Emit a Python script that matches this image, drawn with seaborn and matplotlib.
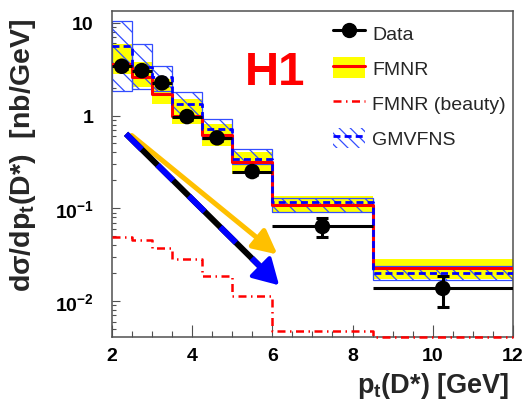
import numpy as np
import pandas as pd
import matplotlib
matplotlib.use("Agg")
import matplotlib.pyplot as plt
import seaborn as sns
from matplotlib.patches import Patch
from matplotlib.lines import Line2D
from matplotlib.ticker import FixedLocator, FixedFormatter, LogLocator, MultipleLocator, NullFormatter

# ---- measured D* cross section, pt bins ----
bin_edges = [2.0, 2.5, 3.0, 3.5, 4.25, 5.0, 6.0, 8.5, 12.0]
data_xsec = [3.4, 3.05, 2.25, 0.975, 0.575, 0.249, 0.0637, 0.0137]
data_err = [0.25, 0.22, 0.16, 0.07, 0.04, 0.018, 0.0147, 0.0051]

# ---- NLO predictions ----
fmnr_central = [3.6, 2.6, 1.71, 1.0, 0.62, 0.317, 0.109, 0.0227]
fmnr_low = [2.8, 2.04, 1.34, 0.81, 0.475, 0.235, 0.0887, 0.0171]
fmnr_high = [5.9, 3.8, 2.5, 1.51, 0.814, 0.406, 0.137, 0.0286]
fmnr_beauty = [0.049, 0.046, 0.0375, 0.0286, 0.0187, 0.0114, 0.0047, 0.0041]
gmvfns_central = [5.6, 3.35, 2.6, 1.34, 0.72, 0.34, 0.1166, 0.020]
gmvfns_low = [1.86, 1.94, 1.86, 0.97, 0.561, 0.30, 0.091, 0.017]
gmvfns_high = [10.5, 5.9, 3.45, 1.81, 0.92, 0.437, 0.13, 0.0238]

# ---- axis ticks ----
xtick_values = [2, 4, 6, 8, 10, 12]
xtick_labels = ["2", "4", "6", "8", "10", "12"]
ytick_values = [0.01, 0.1, 1, 10]
ytick_labels = ["10$^{-2}$", "10$^{-1}$", "1", "10"]

# ---- illustrative trend arrows (start, tip) in data coordinates ----
arrow_dark = ((2.357, 0.635), (6.17, 0.0148))
arrow_gold = ((2.499, 0.609), (6.13, 0.0318))

sns.set_theme(style="ticks")
plt.rcParams.update({
    "font.family": ["Liberation Sans", "DejaVu Sans"],
    "font.weight": "bold",
    "axes.labelweight": "bold",
    "mathtext.fontset": "custom",
    "mathtext.rm": "Liberation Sans:bold",
    "mathtext.bf": "Liberation Sans:bold",
    "mathtext.it": "Liberation Sans:bold",
    "mathtext.default": "bf",
    "hatch.linewidth": 0.9,
})

edges = np.array(bin_edges)
lefts = edges[:-1]
widths = np.diff(edges)
centers = lefts + widths / 2


def stepped(vals):
    v = list(vals)
    return v + [v[-1]]


fig = plt.figure(figsize=(5.25, 4.06), dpi=100)
ax = fig.add_axes([0.2128, 0.1675, 0.7644, 0.8037])
ax.set_yscale("log")
ax.set_xlim(2, 12)
ax.set_ylim(0.0041, 13.5)

hatch_blue = (0.2, 0.3, 1.0)

# FMNR uncertainty band
ax.fill_between(edges, stepped(fmnr_low), stepped(fmnr_high), step="post",
                color="#FFFF00", lw=0, zorder=1)

# GMVFNS uncertainty boxes
ax.bar(lefts, np.array(gmvfns_high) - np.array(gmvfns_low), bottom=gmvfns_low,
       width=widths, align="edge", facecolor="none", edgecolor=hatch_blue,
       hatch="\\\\", lw=0.9, zorder=2)

# central predictions
sdf = pd.DataFrame({
    "pt": edges,
    "fmnr": stepped(fmnr_central),
    "gmvfns": stepped(gmvfns_central),
    "beauty": stepped(fmnr_beauty),
})
sns.lineplot(data=sdf, x="pt", y="fmnr", drawstyle="steps-post", estimator=None,
             sort=False, color="red", lw=2.2, ax=ax, zorder=3)
sns.lineplot(data=sdf, x="pt", y="gmvfns", drawstyle="steps-post", estimator=None,
             sort=False, color="blue", lw=2.0, linestyle=(0, (2.5, 1.5)), ax=ax, zorder=4)
sns.lineplot(data=sdf, x="pt", y="beauty", drawstyle="steps-post", estimator=None,
             sort=False, color="red", lw=1.8, linestyle=(0, (3.2, 1.8, 0.6, 1.8)),
             ax=ax, zorder=4, clip_on=False)


def head_tail(start, tip, frac=0.88):
    x = start[0] + frac * (tip[0] - start[0])
    ly = np.log10(start[1]) + frac * (np.log10(tip[1]) - np.log10(start[1]))
    return (x, 10 ** ly)


# gold arrow
ax.annotate("", xy=arrow_gold[1], xytext=arrow_gold[0],
            arrowprops=dict(arrowstyle="-|>,head_length=1.2,head_width=0.6",
                            color="#FFC000", lw=3.6, shrinkA=0, shrinkB=0,
                            mutation_scale=12), zorder=5)

# black/blue dashed arrow
tail = head_tail(*arrow_dark)
ax.plot([arrow_dark[0][0], tail[0]], [arrow_dark[0][1], tail[1]],
        color="black", lw=4.3, solid_capstyle="butt", zorder=5)
ax.plot([arrow_dark[0][0], tail[0]], [arrow_dark[0][1], tail[1]],
        color="blue", lw=4.3, linestyle=(0, (3.7, 3.7)), dash_capstyle="butt", zorder=5)
ax.annotate("", xy=arrow_dark[1], xytext=tail,
            arrowprops=dict(arrowstyle="-|>,head_length=1.3,head_width=0.75",
                            color="blue", lw=3.0, shrinkA=0, shrinkB=0,
                            mutation_scale=12), zorder=6)

# data points
ax.errorbar(centers, data_xsec, xerr=widths / 2, fmt="none", ecolor="black",
            elinewidth=2.2, capsize=0, zorder=7)
ax.errorbar(centers, data_xsec, yerr=data_err, fmt="none", ecolor="black",
            elinewidth=2.2, capsize=4.3, capthick=2.2, zorder=7)
pdf = pd.DataFrame({"pt": centers, "xsec": data_xsec})
sns.scatterplot(data=pdf, x="pt", y="xsec", s=125, color="black", edgecolor="none",
                ax=ax, zorder=8)

# axes styling
ax.xaxis.set_major_locator(FixedLocator(xtick_values))
ax.xaxis.set_major_formatter(FixedFormatter(xtick_labels))
ax.xaxis.set_minor_locator(MultipleLocator(0.5))
ax.yaxis.set_major_locator(FixedLocator(ytick_values))
ax.yaxis.set_major_formatter(FixedFormatter(ytick_labels))
ax.yaxis.set_minor_locator(LogLocator(base=10, subs=np.arange(2, 10)))
ax.yaxis.set_minor_formatter(NullFormatter())

frame_col = "#505050"
for sp in ax.spines.values():
    sp.set_color(frame_col)
    sp.set_linewidth(1.1)
ax.tick_params(which="both", direction="in", top=False, right=False,
               color=frame_col, width=0.8, labelsize=14, labelcolor="black")
ax.tick_params(axis="x", which="major", length=9, pad=7)
ax.tick_params(axis="x", which="minor", length=4.5)
ax.tick_params(axis="y", which="major", length=6, pad=13)
ax.tick_params(axis="y", which="minor", length=3)

ax.set_xlabel("p$_{t}$(D*) [GeV]", fontsize=19.5, ha="right")
ax.xaxis.set_label_coords(0.99, -0.1)
ax.set_ylabel("d\u03c3/dp$_{t}$(D*)  [nb/GeV]", fontsize=20.5)
ax.yaxis.set_label_coords(-0.184, 0.56)

fig.text(275 / 525, 1 - 85 / 406, "H1", color="red", fontsize=34,
         fontweight="bold", ha="center", va="baseline")

handles = [
    Line2D([], [], color="black", marker="o", ms=10, lw=2.2),
    (Patch(facecolor="#FFFF00", lw=0), Line2D([], [], color="red", lw=2.2)),
    Line2D([], [], color="red", lw=1.8, linestyle=(0, (3.2, 1.8, 0.6, 1.8))),
    (Patch(facecolor="none", edgecolor=hatch_blue, hatch="\\\\\\", lw=0),
     Line2D([], [], color="blue", lw=2.0, linestyle=(0, (2.5, 1.5)))),
]
labels = ["Data", "FMNR", "FMNR (beauty)", "GMVFNS"]
ax.legend(handles, labels, loc="upper left", bbox_to_anchor=(333 / 525, 1 - 23 / 406),
          bbox_transform=fig.transFigure, frameon=False, borderpad=0, borderaxespad=0,
          prop={"size": 14, "weight": "normal"}, handlelength=1.65, handleheight=1.25,
          labelspacing=0.74, handletextpad=0.36)

fig.savefig("out.png", dpi=100)
